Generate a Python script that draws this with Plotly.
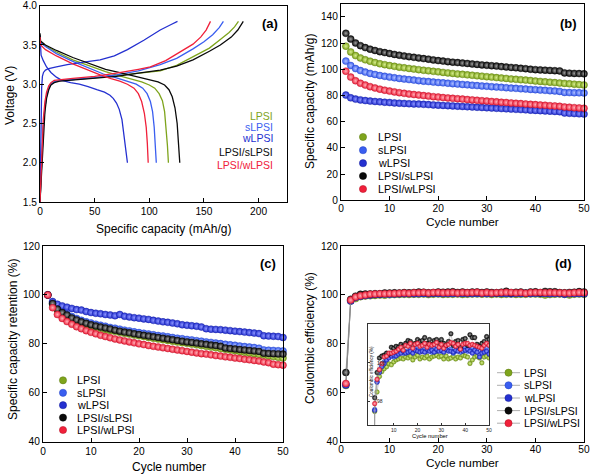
import plotly.graph_objects as go

W, H = 591, 476
FONT = "Arial, Liberation Sans, sans-serif"

names = ["LPSI", "sLPSI", "wLPSI", "LPSI/sLPSI", "LPSI/wLPSI"]
colors = ["#7ea41c", "#3a5ef0", "#2430d0", "#0a0a0a", "#f0203a"]
lights = ["#d8ee90", "#b0c0ff", "#8d96ff", "#a0a0a0", "#ffb0b8"]
edges = ["#5c7a10", "#2040c0", "#101a99", "#000000", "#b01025"]

# ---------- panel (a): charge / discharge profiles ----------
a_chg_cap = {
    "LPSI": [0, 0.8, 1.8, 3, 4.5, 6, 8, 10, 13, 18, 30, 50, 70, 90, 110, 125, 140, 155, 165, 173, 178, 181.6],
    "sLPSI": [0, 0.8, 1.8, 3, 4.5, 6, 8, 10, 13, 18, 30, 50, 70, 90, 110, 125, 140, 150, 158, 164, 167.8],
    "wLPSI": [0, 0.4, 0.9, 1.5, 2.2, 3.2, 5, 8, 15, 25, 40, 55, 68, 80, 95, 110, 120, 125.8],
    "LPSI/sLPSI": [0, 0.8, 1.8, 3, 4.5, 6, 8, 10, 13, 18, 30, 50, 70, 90, 110, 125, 140, 155, 165, 175, 181, 186],
    "LPSI/wLPSI": [0, 0.8, 1.8, 3, 4.5, 6, 8, 10, 13, 18, 30, 50, 70, 90, 101, 115, 132, 140, 147, 152, 156],
}
a_chg_v = {
    "LPSI": [1.5, 1.75, 2.15, 2.45, 2.7, 2.85, 2.95, 3.0, 3.03, 3.045, 3.06, 3.08, 3.11, 3.14, 3.17, 3.24, 3.35, 3.46, 3.57, 3.66, 3.73, 3.8],
    "sLPSI": [1.5, 1.75, 2.15, 2.45, 2.7, 2.85, 2.95, 3.0, 3.03, 3.045, 3.06, 3.085, 3.12, 3.17, 3.25, 3.33, 3.45, 3.54, 3.63, 3.72, 3.8],
    "wLPSI": [1.5, 2.0, 2.6, 2.95, 3.1, 3.15, 3.18, 3.2, 3.22, 3.25, 3.28, 3.31, 3.36, 3.44, 3.56, 3.69, 3.76, 3.8],
    "LPSI/sLPSI": [1.5, 1.7, 2.1, 2.4, 2.65, 2.82, 2.93, 2.99, 3.02, 3.04, 3.055, 3.075, 3.1, 3.14, 3.18, 3.23, 3.31, 3.42, 3.5, 3.6, 3.69, 3.8],
    "LPSI/wLPSI": [1.5, 1.8, 2.25, 2.55, 2.78, 2.9, 2.98, 3.02, 3.05, 3.06, 3.075, 3.1, 3.14, 3.19, 3.22, 3.3, 3.44, 3.51, 3.6, 3.69, 3.8],
}
a_dis_cap = {
    "LPSI": [0, 0.5, 5, 15, 30, 45, 60, 72, 84, 93, 100, 105, 109, 112, 114, 115.5, 116.6, 117.5],
    "sLPSI": [0, 0.5, 5, 15, 30, 45, 58, 70, 80, 88, 94, 98, 101, 103, 104.5, 105.5, 106.4],
    "wLPSI": [0, 0.3, 1, 3, 6, 10, 15, 20, 28, 36, 44, 52, 59, 64, 67, 70, 72.5, 75, 77, 78.3, 80],
    "LPSI/sLPSI": [0, 0.5, 5, 15, 30, 45, 60, 75, 90, 100, 108, 114, 118, 121, 123.5, 125.5, 126.8, 127.9],
    "LPSI/wLPSI": [0, 0.5, 5, 15, 30, 45, 55, 65, 73, 80, 86, 90, 93, 95.5, 97.2, 98.2, 99],
}
a_dis_v = {
    "LPSI": [3.63, 3.54, 3.49, 3.41, 3.31, 3.23, 3.16, 3.11, 3.06, 3.03, 2.99, 2.95, 2.88, 2.79, 2.65, 2.45, 2.22, 2.0],
    "sLPSI": [3.62, 3.53, 3.48, 3.39, 3.29, 3.2, 3.13, 3.08, 3.04, 3.0, 2.95, 2.88, 2.78, 2.65, 2.45, 2.25, 2.0],
    "wLPSI": [3.62, 3.45, 3.37, 3.3, 3.22, 3.15, 3.09, 3.05, 3.02, 3.0, 2.97, 2.93, 2.9, 2.86, 2.82, 2.76, 2.68, 2.55, 2.35, 2.2, 2.0],
    "LPSI/sLPSI": [3.65, 3.55, 3.5, 3.43, 3.34, 3.26, 3.19, 3.14, 3.09, 3.06, 3.03, 2.99, 2.93, 2.84, 2.7, 2.5, 2.25, 2.0],
    "LPSI/wLPSI": [3.6, 3.5, 3.44, 3.36, 3.26, 3.17, 3.12, 3.07, 3.04, 3.0, 2.95, 2.88, 2.78, 2.63, 2.45, 2.25, 2.0],
}

# ---------- cycles ----------
cycles = list(range(1, 51))

b_capacity = {
    "LPSI": [117.6, 113.2, 110.4, 108.6, 107.2, 106.1, 105.1, 104.2, 103.5, 102.8,
             102.2, 101.6, 101.1, 100.6, 100.1, 99.7, 99.2, 98.8, 98.4, 98.0,
             97.6, 97.2, 96.8, 96.4, 96.1, 95.7, 95.4, 95.0, 94.7, 94.3,
             94.0, 93.6, 93.3, 93.0, 92.6, 92.3, 92.0, 91.7, 91.4, 91.0,
             90.7, 90.4, 90.1, 89.8, 89.5, 89.2, 88.9, 88.6, 88.3, 88.0],
    "sLPSI": [106.2, 102.8, 100.5, 99.0, 97.8, 96.8, 96.0, 95.2, 94.6, 94.0,
              93.5, 93.0, 92.5, 92.1, 91.7, 91.3, 90.9, 90.6, 90.2, 89.9,
              89.6, 89.3, 89.0, 88.7, 88.4, 88.1, 87.8, 87.5, 87.2, 87.0,
              86.7, 86.4, 86.2, 85.9, 85.6, 85.4, 85.1, 84.9, 84.6, 84.4,
              84.1, 83.9, 83.6, 83.4, 83.1, 82.3, 82.2, 82.1, 82.0, 81.9],
    "wLPSI": [80.3, 78.2, 77.2, 76.6, 76.1, 75.7, 75.4, 75.1, 74.8, 74.6,
              74.3, 74.1, 73.9, 73.7, 73.5, 73.4, 73.2, 73.0, 72.8, 72.6,
              72.4, 72.2, 72.0, 71.8, 71.6, 71.4, 71.2, 71.0, 70.8, 70.6,
              70.4, 70.2, 70.0, 69.8, 69.6, 69.4, 69.2, 69.0, 68.8, 68.6,
              68.4, 68.2, 68.0, 67.8, 67.6, 66.6, 66.4, 66.2, 66.0, 65.8],
    "LPSI/sLPSI": [127.4, 123.0, 120.0, 118.0, 116.5, 115.3, 114.3, 113.4, 112.7, 112.0,
                   111.3, 110.7, 110.1, 109.6, 109.1, 108.6, 108.1, 107.7, 107.1, 106.6,
                   106.2, 105.8, 105.4, 105.1, 104.7, 104.4, 104.0, 103.7, 103.3, 103.0,
                   102.7, 102.4, 102.0, 101.7, 101.4, 101.1, 100.7, 100.4, 100.0, 99.7,
                   99.5, 99.3, 99.1, 98.9, 98.7, 97.2, 97.0, 96.8, 96.7, 96.5],
    "LPSI/wLPSI": [98.5, 94.0, 91.2, 89.3, 87.9, 86.7, 85.7, 84.8, 84.0, 83.3,
                   82.7, 82.1, 81.6, 81.1, 80.7, 80.3, 79.9, 79.5, 79.1, 78.8,
                   78.4, 78.1, 77.8, 77.5, 77.2, 76.9, 76.6, 76.3, 76.0, 75.7,
                   75.4, 75.1, 74.8, 74.6, 74.3, 74.0, 73.8, 73.5, 73.2, 73.0,
                   72.7, 72.5, 72.2, 72.0, 71.7, 71.2, 71.0, 70.7, 70.5, 70.2],
}

c_retention = {
    "LPSI": [100, 96.2, 93.8, 92.3, 91.1, 90.2, 89.4, 88.6, 88.0, 87.4,
             86.9, 86.4, 85.9, 85.5, 85.1, 84.7, 84.3, 84.0, 83.6, 83.3,
             83.0, 82.6, 82.3, 82.0, 81.7, 81.4, 81.1, 80.8, 80.5, 80.2,
             79.9, 79.6, 79.3, 79.0, 78.7, 78.4, 78.1, 77.8, 77.5, 77.2,
             76.9, 76.6, 76.3, 76.0, 75.7, 75.4, 75.1, 74.8, 74.5, 74.2],
    "sLPSI": [100, 96.8, 94.6, 93.2, 92.1, 91.2, 90.4, 89.6, 89.0, 88.5,
              88.0, 87.6, 87.2, 86.7, 86.4, 86.0, 85.6, 85.3, 84.9, 84.6,
              84.3, 84.0, 83.7, 83.4, 83.2, 82.9, 82.6, 82.3, 82.1, 81.8,
              81.6, 81.3, 81.1, 80.8, 80.6, 80.3, 80.1, 79.8, 79.6, 79.4,
              79.1, 78.9, 78.7, 78.5, 78.2, 77.5, 77.4, 77.3, 77.2, 77.1],
    "wLPSI": [100, 97.3, 96.2, 95.5, 95.0, 94.5, 94.0, 93.8, 93.2, 92.8,
              92.5, 92.3, 92.0, 91.8, 91.5, 92.0, 91.3, 91.0, 90.7, 90.5,
              90.2, 90.0, 89.6, 89.3, 89.0, 88.8, 88.5, 88.2, 87.8, 87.6,
              87.4, 87.2, 86.9, 86.2, 86.0, 85.9, 85.8, 85.6, 85.4, 85.2,
              85.0, 84.8, 84.6, 84.4, 84.2, 83.3, 83.2, 83.1, 83.0, 82.6],
    "LPSI/sLPSI": [100, 96.5, 94.2, 92.8, 91.8, 90.6, 89.8, 89.0, 88.4, 87.8,
                   87.3, 86.9, 86.5, 86.1, 85.6, 85.2, 84.8, 84.5, 84.1, 83.8,
                   83.5, 83.2, 82.9, 82.6, 82.3, 82.0, 81.7, 81.4, 81.1, 80.8,
                   80.6, 80.3, 80.0, 79.8, 79.5, 79.3, 79.0, 78.3, 78.1, 77.9,
                   77.7, 77.5, 77.3, 77.1, 76.9, 76.2, 76.1, 76.0, 75.9, 75.8],
    "LPSI/wLPSI": [100, 94.8, 92.0, 90.4, 89.1, 88.0, 87.0, 86.2, 85.4, 84.7,
                   84.1, 83.5, 83.0, 82.5, 82.0, 81.6, 81.2, 80.8, 80.4, 80.0,
                   79.7, 79.3, 79.0, 78.7, 78.4, 78.1, 77.8, 77.5, 77.2, 76.9,
                   76.6, 76.3, 76.0, 75.8, 75.5, 75.2, 75.0, 74.7, 74.5, 74.2,
                   74.0, 73.7, 73.5, 73.2, 73.0, 72.6, 72.3, 71.7, 71.5, 71.3],
}

d_efficiency = {
    "LPSI": [63.0, 97.5, 98.5, 99.3, 99.55, 99.7, 99.8, 99.95, 99.9, 100.05,
             100.15, 100.2, 100.25, 100.2, 100.3, 100.25, 100.35, 100.15, 100.3, 100.4,
             100.2, 100.3, 100.25, 100.35, 100.2, 100.3, 100.35, 100.4, 100.3, 100.35,
             100.2, 100.35, 100.2, 100.25, 100.35, 100.2, 100.3, 100.25, 100.4, 100.35,
             100.3, 99.97, 100.15, 100.3, 100.35, 100.25, 100.0, 100.3, 100.35, 100.25],
    "sLPSI": [63.5, 97.6, 99.05, 99.6, 99.85, 100.05, 100.2, 100.3, 100.4, 100.3,
              100.45, 100.5, 100.55, 100.5, 100.6, 100.55, 100.7, 100.6, 100.65, 100.85,
              100.6, 100.65, 100.7, 100.6, 100.7, 100.55, 100.75, 100.6, 100.7, 100.6,
              100.75, 100.7, 100.65, 100.7, 100.5, 100.6, 100.65, 100.55, 100.7, 100.8,
              100.6, 100.7, 100.8, 100.6, 100.7, 100.45, 100.7, 100.6, 100.8, 100.55],
    "wLPSI": [63.2, 97.55, 99.0, 99.5, 99.8, 99.95, 100.15, 100.25, 100.35, 100.4,
              100.35, 100.45, 100.5, 100.6, 100.5, 100.55, 100.6, 100.5, 100.65, 100.6,
              100.55, 100.6, 100.55, 100.7, 100.6, 100.65, 100.55, 100.7, 100.6, 100.65,
              100.55, 100.7, 100.6, 100.6, 100.55, 100.65, 100.6, 100.7, 100.6, 100.65,
              100.7, 100.6, 100.5, 100.65, 100.55, 100.3, 100.5, 100.55, 100.6, 100.45],
    "LPSI/sLPSI": [68.3, 98.2, 99.5, 100.25, 100.35, 100.4, 100.5, 100.45, 100.8, 100.75,
                   100.85, 100.8, 100.95, 100.85, 101.0, 101.15, 101.1, 100.9, 101.0, 101.2,
                   101.1, 101.15, 101.3, 101.0, 101.2, 100.95, 101.15, 101.2, 101.0, 101.2,
                   101.0, 100.9, 101.1, 101.5, 100.9, 101.1, 101.15, 100.8, 101.2, 101.25,
                   100.9, 101.45, 101.3, 101.3, 100.95, 100.85, 101.0, 101.1, 101.35, 101.2],
    "LPSI/wLPSI": [63.8, 97.9, 99.15, 99.65, 99.95, 100.3, 100.35, 100.5, 100.5, 100.55,
                   100.6, 100.7, 100.8, 100.65, 100.9, 100.85, 101.0, 100.75, 100.95, 101.0,
                   100.85, 100.9, 101.0, 100.8, 100.95, 100.9, 100.95, 101.05, 100.8, 100.95,
                   100.75, 100.9, 100.95, 101.05, 101.0, 100.85, 100.95, 100.7, 100.95, 101.0,
                   101.0, 100.9, 100.95, 100.9, 100.85, 100.8, 100.75, 100.9, 101.0, 100.9],
}

a_ticks_x = [0, 50, 100, 150, 200]
a_ticks_y = [1.5, 2.0, 2.5, 3.0, 3.5, 4.0]
b_ticks_y = [0, 20, 40, 60, 80, 100, 120, 140]
cd_ticks_y = [40, 60, 80, 100, 120]
cyc_ticks = [0, 10, 20, 30, 40, 50]
inset_ticks_x = [0, 10, 20, 30, 40, 50]
inset_ticks_y = [98, 100, 102]


def X(px):
    return px / W


def Y(py):
    return 1 - py / H


fig = go.Figure()

# panel (a)
for i, n in enumerate(names):
    for caps, vs in ((a_chg_cap, a_chg_v), (a_dis_cap, a_dis_v)):
        fig.add_trace(go.Scatter(x=caps[n], y=vs[n], mode="lines",
                                 line=dict(color=colors[i], width=1.3),
                                 xaxis="x", yaxis="y", showlegend=False, hoverinfo="skip"))


def mk(i, size):
    return dict(size=size, color=colors[i], line=dict(color=edges[i], width=0.4),
                gradient=dict(type="radial", color=lights[i]))


# panel (b)
for i, n in enumerate(names):
    fig.add_trace(go.Scatter(x=cycles, y=b_capacity[n], mode="markers", marker=mk(i, 7),
                             xaxis="x2", yaxis="y2", showlegend=False, cliponaxis=False))
# panel (c)
for i, n in enumerate(names):
    fig.add_trace(go.Scatter(x=cycles, y=c_retention[n], mode="markers", marker=mk(i, 7),
                             xaxis="x3", yaxis="y3", showlegend=False, cliponaxis=False))
# panel (d)
for i, n in enumerate(names):
    fig.add_trace(go.Scatter(x=cycles, y=d_efficiency[n], mode="lines+markers", marker=mk(i, 7),
                             line=dict(color="#8a8a8a", width=0.7),
                             xaxis="x4", yaxis="y4", showlegend=False, cliponaxis=False))
# inset
for i, n in enumerate(names):
    fig.add_trace(go.Scatter(x=cycles, y=d_efficiency[n], mode="lines+markers", marker=mk(i, 4.6),
                             line=dict(color="#9a9a9a", width=0.5),
                             xaxis="x5", yaxis="y5", showlegend=False))

ax_common = dict(showline=True, linecolor="black", linewidth=1, mirror=True, ticks="inside",
                 ticklen=4, tickwidth=1, tickcolor="black", showgrid=False, zeroline=False,
                 automargin=False, tickfont=dict(size=10.2, color="black", family=FONT))
inset_common = dict(showline=True, linecolor="#333", linewidth=0.8, mirror=True, ticks="inside",
                    ticklen=2, tickwidth=0.6, tickcolor="#333", showgrid=False, zeroline=False,
                    automargin=False, tickfont=dict(size=5, family=FONT, color="#222"))

fig.update_layout(
    width=W, height=H, margin=dict(l=0, r=0, t=0, b=0, pad=0, autoexpand=False),
    paper_bgcolor="white", plot_bgcolor="white", showlegend=False,
    font=dict(family=FONT, color="black"),
    xaxis=dict(domain=[X(40), X(287)], range=[0, 226], tickvals=a_ticks_x, anchor="y", **ax_common),
    yaxis=dict(domain=[Y(202), Y(5.7)], range=[1.5, 4.0], tickvals=a_ticks_y, tickformat=".1f", anchor="x", **ax_common),
    xaxis2=dict(domain=[X(341), X(584)], range=[0, 50], tickvals=cyc_ticks, anchor="y2",
                ticklabelstandoff=-2, **ax_common),
    yaxis2=dict(domain=[Y(200.3), Y(3.7)], range=[0, 150], tickvals=b_ticks_y, anchor="x2", **ax_common),
    xaxis3=dict(domain=[X(43), X(283)], range=[0, 50], tickvals=cyc_ticks, anchor="y3", **ax_common),
    yaxis3=dict(domain=[Y(441.7), Y(246)], range=[40, 120], tickvals=cd_ticks_y, anchor="x3", **ax_common),
    xaxis4=dict(domain=[X(341), X(584)], range=[0, 50], tickvals=cyc_ticks, anchor="y4",
                ticklabelstandoff=-2, **ax_common),
    yaxis4=dict(domain=[Y(441.7), Y(246)], range=[40, 120], tickvals=cd_ticks_y, anchor="x4", **ax_common),
    xaxis5=dict(domain=[X(368), X(489)], range=[-0.8, 50], tickvals=inset_ticks_x, anchor="y5", **inset_common),
    yaxis5=dict(domain=[Y(425), Y(324)], range=[96.8, 102.0], tickvals=inset_ticks_y, anchor="x5",
                ticklabelposition="inside", ticklabelstandoff=5, **inset_common),
)

ann = []
shapes = []


def text(px, py, s, size=12, color="black", xanchor="center", angle=0, bold=False):
    ann.append(dict(x=X(px), y=Y(py), xref="paper", yref="paper", text=("<b>%s</b>" % s) if bold else s,
                    showarrow=False, xanchor=xanchor, yanchor="middle", textangle=angle,
                    font=dict(size=size, color=color, family=FONT)))


# axis titles
text(10, 96, "Voltage (V)", 12, angle=-90)
text(163, 228.5, "Specific capacity (mAh/g)", 12)
text(310, 102, "Specific capacity (mAh/g)", 12, angle=-90)
text(462, 222, "Cycle number", 11.8)
text(13, 340, "Specific capacity retention (%)", 12, angle=-90)
text(169, 467, "Cycle number", 12)
text(310, 338, "Coulombic efficiency (%)", 12, angle=-90)
text(462, 462.5, "Cycle number", 11.8)
# inset titles
text(371, 372, "Coulombic efficiency (%)", 4.6, angle=-90)
text(430, 435.5, "Cycle number", 5.8)

# panel labels
text(270, 23, "(a)", 13, bold=True)
text(568, 23, "(b)", 13, bold=True)
text(268, 263, "(c)", 13, bold=True)
text(563, 263, "(d)", 13, bold=True)

# panel (a) text legend
for n, c, py in zip(names, colors, [116, 126.7, 137.5, 152.3, 164.7]):
    text(274.5, py, n, 10.5, color=c, xanchor="right")


def circle(px, py, i, r=3.6):
    shapes.append(dict(type="circle", xref="paper", yref="paper", xsizemode="pixel", ysizemode="pixel",
                       xanchor=X(px), yanchor=Y(py), x0=-r, x1=r, y0=-r, y1=r,
                       fillcolor=colors[i], line=dict(color=edges[i], width=0.5)))


for i, (n, py) in enumerate(zip(names, [137, 150.2, 163.2, 176, 189])):
    circle(363, py, i)
    text(375.5, py, n, 10.8, xanchor="left")

for i, (n, py) in enumerate(zip(names, [380.3, 392.8, 405.2, 417.6, 430])):
    circle(63, py, i)
    text(74.5, py, n, 10.8, xanchor="left")

for i, (n, py) in enumerate(zip(names, [372.7, 385.3, 398, 410.6, 423.2])):
    shapes.append(dict(type="line", xref="paper", yref="paper", x0=X(497), x1=X(520), y0=Y(py), y1=Y(py),
                       line=dict(color="#999999", width=0.8)))
    circle(508.5, py, i)
    text(522, py, n, 10.5, xanchor="left")

fig.update_layout(annotations=ann, shapes=shapes)
fig.write_html("out.html", config={"displayModeBar": False},
               post_script="document.body.style.margin='0';document.body.style.overflow='hidden';")
